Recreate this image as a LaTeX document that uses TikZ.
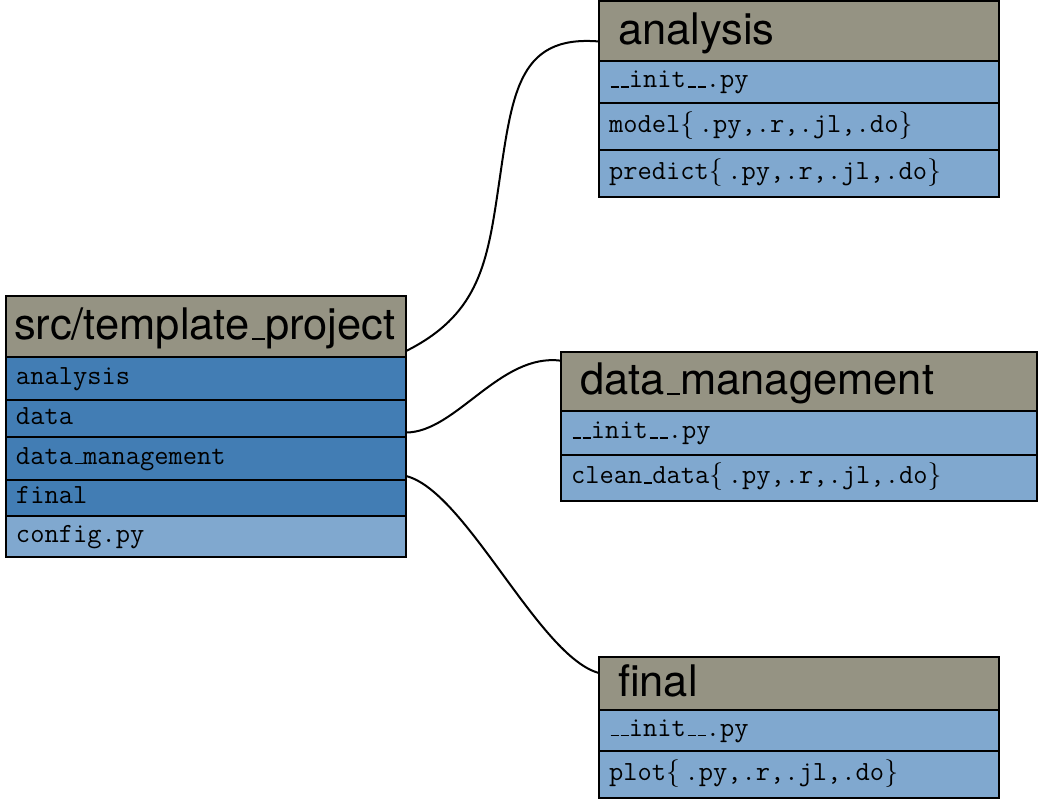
\RequirePackage{fix-cm}
\documentclass[tikz,border=0pt]{standalone}
\usepackage{fontspec}
\newfontfamily\hdfont{TeX Gyre Heros}
\usepackage{tikz}
\usetikzlibrary{positioning}

\definecolor{headgray}{RGB}{149,147,131}
\definecolor{rowdark}{RGB}{66,125,180}
\definecolor{rowlight}{RGB}{128,168,207}
\newcommand{\usc}{\leavevmode\kern.06em\vrule width .3em height 1.8pt depth 0pt}
\newcommand{\srcext}{$\{\,$.py,.r,.jl,.do$\}$}

\tikzset{
   tabhead/.style={draw, line width=2pt, fill=headgray, outer sep=0pt, anchor=north west,
      font=\hdfont\fontsize{43.5}{50}\selectfont, text height=31.3pt, text depth=4.4pt,
      align=left, inner ysep=0pt, inner xsep=19pt},
   tabrow/.style={draw, line width=2pt, fill=rowlight, outer sep=0pt,
      font=\ttfamily\fontsize{27.7}{32}\selectfont, text height=17.1pt, text depth=5.5pt,
      align=left, inner ysep=0pt, inner xsep=10pt},
   pkgrow/.style={tabrow, fill=rowdark},
   link/.style={line width=2pt}
}

\begin{document}
\begin{tikzpicture}[x=1pt,y=-1pt]
   \useasboundingbox (0,0) rectangle (1044,800);

   % src/template_project
   \node[tabhead, inner xsep=8pt, text width=384pt, minimum height=61pt] (srchead) at (6,296) {src/template\usc project};
   \node[pkgrow, text width=380pt, minimum height=43pt, below=0pt of srchead] (srcan) {analysis};
   \node[pkgrow, text width=380pt, minimum height=37pt, below=0pt of srcan] (srcdata) {data};
   \node[pkgrow, text width=380pt, minimum height=43pt, below=0pt of srcdata] (srcdm) {data\usc management};
   \node[pkgrow, text width=380pt, minimum height=36pt, below=0pt of srcdm] (srcfin) {final};
   \node[tabrow, text width=380pt, minimum height=41pt, below=0pt of srcfin] (srccfg) {config.py};

   % analysis
   \node[tabhead, text width=362pt, minimum height=60pt] (anhead) at (599,1) {analysis};
   \node[tabrow, text width=380pt, minimum height=42pt, below=0pt of anhead] (aninit) {\usc\usc init\usc\usc.py};
   \node[tabrow, text width=380pt, minimum height=47pt, below=0pt of aninit] (anmodel) {model\srcext};
   \node[tabrow, text width=380pt, minimum height=47pt, below=0pt of anmodel] (anpred) {predict\srcext};

   % data_management
   \node[tabhead, text width=438pt, minimum height=59pt] (dmhead) at (561,352) {data\usc management};
   \node[tabrow, text width=456pt, minimum height=44pt, below=0pt of dmhead] (dminit) {\usc\usc init\usc\usc.py};
   \node[tabrow, text width=456pt, minimum height=46pt, below=0pt of dminit] (dmclean) {clean\usc data\srcext};

   % final
   \node[tabhead, text width=362pt, minimum height=53pt] (finhead) at (599,657) {final};
   \node[tabrow, text width=380pt, minimum height=41pt, below=0pt of finhead] (fininit) {\usc\usc init\usc\usc.py};
   \node[tabrow, text width=380pt, minimum height=47pt, below=0pt of fininit] (finplot) {plot\srcext};

   \coordinate (bend) at (497,197);
   \draw[link] (srchead.-7.5) .. controls +(70,-35) and +(-10.5,70) .. (bend)
      .. controls +(15,-100) and +(-84,-7) .. (anhead.183.5);
   \draw[link] (srcdata.-4.5) .. controls +(50,0) and +(-61,-8) .. (dmhead.175.5);
   \draw[link] (srcdm.-5) .. controls +(60,15) and +(-60,-16) .. (finhead.177.3);
\end{tikzpicture}
\end{document}
